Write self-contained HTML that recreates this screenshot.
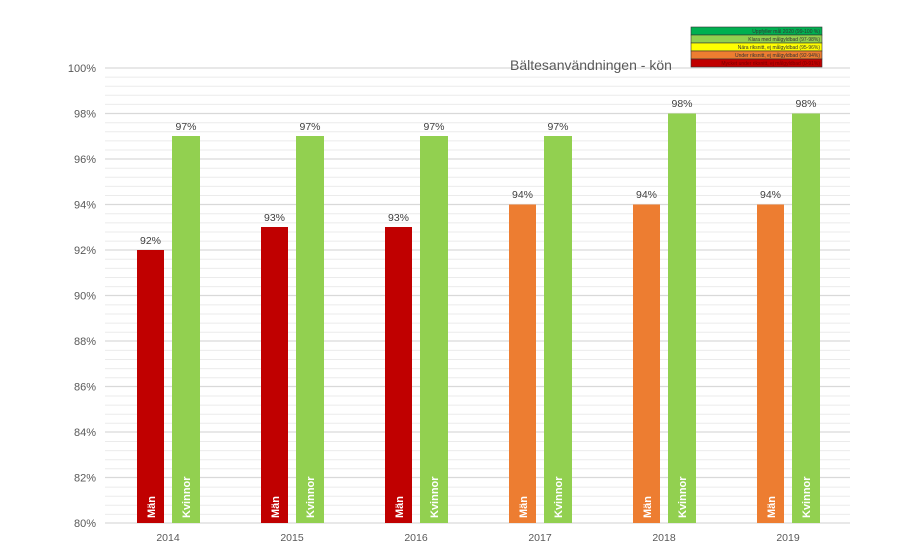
<!DOCTYPE html>
<html><head><meta charset="utf-8"><style>
body{margin:0;background:#fff;}
svg{display:block;font-family:"Liberation Sans",Arial,sans-serif;}
</style></head><body>
<svg width="900" height="560" xmlns="http://www.w3.org/2000/svg">
<g id="grid"></g>
<g stroke="#ebebeb" stroke-width="1">
<line x1="105" x2="850" y1="77.1" y2="77.1"/><line x1="105" x2="850" y1="86.2" y2="86.2"/><line x1="105" x2="850" y1="95.3" y2="95.3"/><line x1="105" x2="850" y1="104.4" y2="104.4"/>
<line x1="105" x2="850" y1="122.7" y2="122.7"/><line x1="105" x2="850" y1="131.8" y2="131.8"/><line x1="105" x2="850" y1="140.9" y2="140.9"/><line x1="105" x2="850" y1="150" y2="150"/>
<line x1="105" x2="850" y1="168.2" y2="168.2"/><line x1="105" x2="850" y1="177.3" y2="177.3"/><line x1="105" x2="850" y1="186.4" y2="186.4"/><line x1="105" x2="850" y1="195.5" y2="195.5"/>
<line x1="105" x2="850" y1="213.8" y2="213.8"/><line x1="105" x2="850" y1="222.9" y2="222.9"/><line x1="105" x2="850" y1="232" y2="232"/><line x1="105" x2="850" y1="241.1" y2="241.1"/>
<line x1="105" x2="850" y1="259.3" y2="259.3"/><line x1="105" x2="850" y1="268.4" y2="268.4"/><line x1="105" x2="850" y1="277.5" y2="277.5"/><line x1="105" x2="850" y1="286.6" y2="286.6"/>
<line x1="105" x2="850" y1="304.9" y2="304.9"/><line x1="105" x2="850" y1="314" y2="314"/><line x1="105" x2="850" y1="323.1" y2="323.1"/><line x1="105" x2="850" y1="332.2" y2="332.2"/>
<line x1="105" x2="850" y1="350.4" y2="350.4"/><line x1="105" x2="850" y1="359.5" y2="359.5"/><line x1="105" x2="850" y1="368.6" y2="368.6"/><line x1="105" x2="850" y1="377.7" y2="377.7"/>
<line x1="105" x2="850" y1="396" y2="396"/><line x1="105" x2="850" y1="405.1" y2="405.1"/><line x1="105" x2="850" y1="414.2" y2="414.2"/><line x1="105" x2="850" y1="423.3" y2="423.3"/>
<line x1="105" x2="850" y1="441.5" y2="441.5"/><line x1="105" x2="850" y1="450.6" y2="450.6"/><line x1="105" x2="850" y1="459.7" y2="459.7"/><line x1="105" x2="850" y1="468.8" y2="468.8"/>
<line x1="105" x2="850" y1="487.1" y2="487.1"/><line x1="105" x2="850" y1="496.2" y2="496.2"/><line x1="105" x2="850" y1="505.3" y2="505.3"/><line x1="105" x2="850" y1="514.4" y2="514.4"/>
</g>
<g stroke="#d9d9d9" stroke-width="1.3">
<line x1="105" x2="850" y1="68" y2="68"/><line x1="105" x2="850" y1="113.5" y2="113.5"/><line x1="105" x2="850" y1="159" y2="159"/><line x1="105" x2="850" y1="204.5" y2="204.5"/><line x1="105" x2="850" y1="250" y2="250"/><line x1="105" x2="850" y1="295.5" y2="295.5"/><line x1="105" x2="850" y1="341" y2="341"/><line x1="105" x2="850" y1="386.5" y2="386.5"/><line x1="105" x2="850" y1="432" y2="432"/><line x1="105" x2="850" y1="477.5" y2="477.5"/><line x1="105" x2="850" y1="523" y2="523"/>
</g>
<g font-size="11" fill="#595959" text-anchor="end">
<text x="96" y="72">100%</text><text x="96" y="117.5">98%</text><text x="96" y="163">96%</text><text x="96" y="208.5">94%</text><text x="96" y="254">92%</text><text x="96" y="299.5">90%</text><text x="96" y="345">88%</text><text x="96" y="390.5">86%</text><text x="96" y="436">84%</text><text x="96" y="481.5">82%</text><text x="96" y="527">80%</text>
</g>
<text x="510" y="70" font-size="14" fill="#595959">Bältesanvändningen - kön</text>
<!-- bars -->
<g>
<rect x="137" y="250" width="27" height="273" fill="#c00000"/><rect x="172" y="136" width="28" height="387" fill="#92d050"/>
<rect x="261" y="227" width="27" height="296" fill="#c00000"/><rect x="296" y="136" width="28" height="387" fill="#92d050"/>
<rect x="385" y="227" width="27" height="296" fill="#c00000"/><rect x="420" y="136" width="28" height="387" fill="#92d050"/>
<rect x="509" y="204.5" width="27" height="318.5" fill="#ed7d31"/><rect x="544" y="136" width="28" height="387" fill="#92d050"/>
<rect x="633" y="204.5" width="27" height="318.5" fill="#ed7d31"/><rect x="668" y="113.5" width="28" height="409.5" fill="#92d050"/>
<rect x="757" y="204.5" width="27" height="318.5" fill="#ed7d31"/><rect x="792" y="113.5" width="28" height="409.5" fill="#92d050"/>
</g>
<g font-size="10.5" fill="#404040" text-anchor="middle">
<text x="150.5" y="244">92%</text><text x="186" y="130">97%</text>
<text x="274.5" y="221">93%</text><text x="310" y="130">97%</text>
<text x="398.5" y="221">93%</text><text x="434" y="130">97%</text>
<text x="522.5" y="198">94%</text><text x="558" y="130">97%</text>
<text x="646.5" y="198">94%</text><text x="682" y="107">98%</text>
<text x="770.5" y="198">94%</text><text x="806" y="107">98%</text>
</g>
<g font-size="11" font-weight="bold" fill="#fff">
<text transform="translate(155,518) rotate(-90)">Män</text><text transform="translate(190,518) rotate(-90)">Kvinnor</text>
<text transform="translate(279,518) rotate(-90)">Män</text><text transform="translate(314,518) rotate(-90)">Kvinnor</text>
<text transform="translate(403,518) rotate(-90)">Män</text><text transform="translate(438,518) rotate(-90)">Kvinnor</text>
<text transform="translate(527,518) rotate(-90)">Män</text><text transform="translate(562,518) rotate(-90)">Kvinnor</text>
<text transform="translate(651,518) rotate(-90)">Män</text><text transform="translate(686,518) rotate(-90)">Kvinnor</text>
<text transform="translate(775,518) rotate(-90)">Män</text><text transform="translate(810,518) rotate(-90)">Kvinnor</text>
</g>
<g font-size="10.5" fill="#595959" text-anchor="middle">
<text x="168" y="541">2014</text><text x="292" y="541">2015</text><text x="416" y="541">2016</text><text x="540" y="541">2017</text><text x="664" y="541">2018</text><text x="788" y="541">2019</text>
</g>
<!-- legend -->
<g stroke="#333" stroke-width="0.6" font-size="5" text-anchor="end">
<rect x="691" y="27" width="131" height="8" fill="#00b050"/>
<rect x="691" y="35" width="131" height="8" fill="#92d050"/>
<rect x="691" y="43" width="131" height="8" fill="#ffff00"/>
<rect x="691" y="51" width="131" height="8" fill="#ed7d31"/>
<rect x="691" y="59" width="131" height="8" fill="#c00000"/>
</g>
<g font-size="5" text-anchor="end" fill="#333">
<text x="820" y="33">Uppfyller mål 2020 (99-100 %)</text>
<text x="820" y="41">Klara med målgyldbad (97-98%)</text>
<text x="820" y="49">Nära riksnitt, ej målgyldbad (95-96%)</text>
<text x="820" y="57">Under riksnitt, ej målgyldbad (92-94%)</text>
<text x="820" y="65" fill="#7a0000">Mycket under riksnitt, ej målgyldbad (0-91%)</text>
</g>
</svg>
</body></html>
